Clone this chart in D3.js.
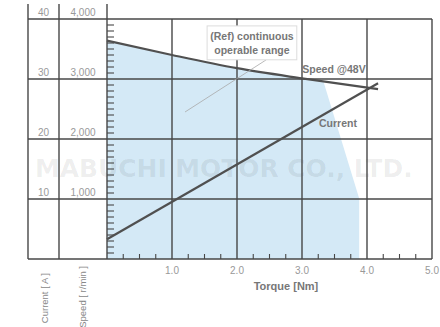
<!DOCTYPE html>
<html><head><meta charset="utf-8">
<script src="https://cdn.jsdelivr.net/npm/d3@7"></script>
<style>
html,body{margin:0;padding:0;background:#fff;}
svg{display:block;}
</style></head>
<body>
<svg id="c" width="440" height="327"></svg>
<script>
// ---- data ----
const speedTorque = [0, 1, 2, 3, 4.17];
const speedRpm = [3640, 3400, 3180, 3010, 2830];
const currentTorque = [0, 4.17];
const currentAmp = [3.3, 29.3];
const rangeTorque = [0, 1, 2, 3, 3.33, 3.88, 3.88, 0];
const rangeRpm = [3640, 3400, 3180, 3010, 2960, 1010, 0, 0];
const xTicks = [1, 2, 3, 4, 5];
const xTickLabels = ["1.0", "2.0", "3.0", "4.0", "5.0"];
const currentTicks = [10, 20, 30, 40];
const currentTickLabels = ["10", "20", "30", "40"];
const speedTickLabels = ["1,000", "2,000", "3,000", "4,000"];
const annoLines = ["(Ref) continuous", "operable range"];

// ---- layout ----
const svg = d3.select("#c");
const x = d3.scaleLinear().domain([0, 5]).range([107, 432]);
const yI = d3.scaleLinear().domain([0, 40]).range([259, 19]);
const yS = d3.scaleLinear().domain([0, 4000]).range([259, 19]);
const tableX = [28, 59, 107];
const gridCol = "#474747";
const narrow = "'Liberation Sans Narrow', 'Arial Narrow', 'Liberation Sans', Arial, sans-serif";
const sans = "'Liberation Sans', Arial, sans-serif";

// fill area (continuous operable range)
const rangePts = rangeTorque.map((t, i) => [x(t), yS(rangeRpm[i])]);
svg.append("path").attr("d", d3.line()(rangePts) + "Z")
  .attr("fill", "#d4e9f6").attr("stroke", "none");

// watermark (sized to span ~380px)
const wm = svg.append("text").attr("x", 35).attr("y", 177)
  .attr("font-family", "'DejaVu Sans', sans-serif").attr("font-weight", "bold").attr("font-size", 27)
  .attr("fill", "#000").attr("fill-opacity", 0.075)
  .text("MABUCHI MOTOR CO., LTD.");
const wmLen = wm.node().getComputedTextLength();
if (wmLen > 0) wm.attr("font-size", 27 * 378 / wmLen);

const g = svg.append("g").attr("stroke", gridCol).attr("stroke-width", 1.4).attr("fill", "none");
// horizontal lines across table and plot
[0, ...currentTicks].forEach(v => {
  g.append("line").attr("x1", tableX[0]).attr("x2", x(5)).attr("y1", yI(v)).attr("y2", yI(v));
});
// table verticals
tableX.forEach(tx => {
  g.append("line").attr("x1", tx).attr("x2", tx).attr("y1", 4).attr("y2", yI(0));
});
// plot verticals
xTicks.forEach(t => {
  g.append("line").attr("x1", x(t)).attr("x2", x(t)).attr("y1", yI(40)).attr("y2", yI(0));
});
// minor ticks left
d3.range(1, 40).filter(v => v % 10 !== 0).forEach(v => {
  g.append("line").attr("x1", x(0)).attr("x2", x(0) + 7).attr("y1", yI(v)).attr("y2", yI(v)).attr("stroke-width", 1.1);
});
// minor ticks bottom
d3.range(1, 20).map(i => i * 0.25).filter(t => Math.abs(t - Math.round(t)) > 0.01).forEach(t => {
  g.append("line").attr("x1", x(t)).attr("x2", x(t)).attr("y1", yI(0)).attr("y2", yI(0) - 5).attr("stroke-width", 1.1);
});

// data lines
svg.append("path")
  .attr("d", d3.line().curve(d3.curveMonotoneX)(speedTorque.map((t, i) => [x(t), yS(speedRpm[i])])))
  .attr("fill", "none").attr("stroke", "#505050").attr("stroke-width", 2.2);
svg.append("path")
  .attr("d", d3.line()(currentTorque.map((t, i) => [x(t), yI(currentAmp[i])])))
  .attr("fill", "none").attr("stroke", "#505050").attr("stroke-width", 2.2);

// annotation leader + box
svg.append("line").attr("x1", x(2.45)).attr("y1", yI(33.2)).attr("x2", x(1.2)).attr("y2", yI(24.5))
  .attr("stroke", "#a8a8a8").attr("stroke-width", 0.8);
svg.append("rect").attr("x", x(1.54)).attr("y", yI(38.85)).attr("width", x(2.92) - x(1.54)).attr("height", yI(33.2) - yI(38.85))
  .attr("fill", "#fff").attr("stroke", "#dcdcdc").attr("stroke-width", 1);
annoLines.forEach((s, i) => {
  svg.append("text").attr("x", (x(1.54) + x(2.92)) / 2).attr("y", 40 + i * 14)
    .attr("text-anchor", "middle").attr("font-family", narrow).attr("font-weight", "bold")
    .attr("font-size", 10.5).attr("fill", "#777").text(s);
});

// series labels
svg.append("text").attr("x", 334).attr("y", 73).attr("text-anchor", "middle")
  .attr("font-family", narrow).attr("font-weight", "bold").attr("font-size", 10.5).attr("fill", "#777").text("Speed @48V");
svg.append("text").attr("x", 338).attr("y", 127).attr("text-anchor", "middle")
  .attr("font-family", narrow).attr("font-weight", "bold").attr("font-size", 10.5).attr("fill", "#777").text("Current");

// left table labels
currentTicks.forEach((v, i) => {
  svg.append("text").attr("x", (tableX[0] + tableX[1]) / 2).attr("y", yI(v) - 3.5).attr("text-anchor", "middle")
    .attr("font-family", sans).attr("font-size", 10).attr("fill", "#999").text(currentTickLabels[i]);
  svg.append("text").attr("x", (tableX[1] + tableX[2]) / 2).attr("y", yS(v * 100) - 3.5).attr("text-anchor", "middle")
    .attr("font-family", sans).attr("font-size", 10).attr("fill", "#999").text(speedTickLabels[i]);
});

// bottom tick labels
xTicks.forEach((t, i) => {
  svg.append("text").attr("x", x(t)).attr("y", 274).attr("text-anchor", "middle")
    .attr("font-family", sans).attr("font-size", 10).attr("fill", "#999").text(xTickLabels[i]);
});
svg.append("text").attr("x", 286).attr("y", 290).attr("text-anchor", "middle")
  .attr("font-family", narrow).attr("font-weight", "bold").attr("font-size", 11).attr("fill", "#777").text("Torque [Nm]");

// vertical axis titles
svg.append("text").attr("transform", "translate(48,273) rotate(-90)").attr("text-anchor", "end")
  .attr("font-family", sans).attr("font-size", 9.5).attr("fill", "#888").text("Current [ A ]");
svg.append("text").attr("transform", "translate(86,266) rotate(-90)").attr("text-anchor", "end")
  .attr("font-family", sans).attr("font-size", 9.5).attr("fill", "#888").text("Speed [ r/min ]");
</script>
</body></html>
